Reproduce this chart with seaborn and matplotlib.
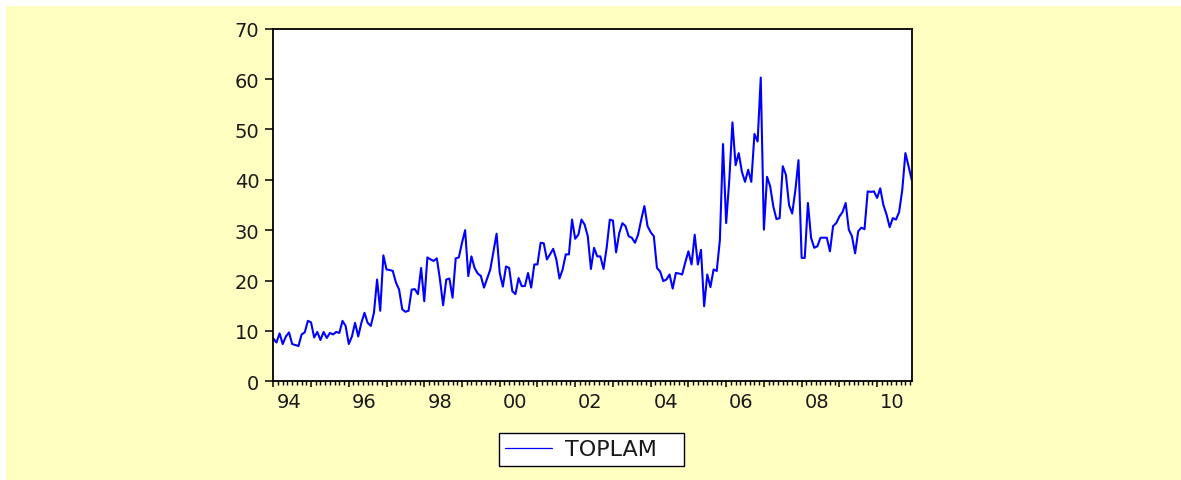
import numpy as np
import pandas as pd
import matplotlib
matplotlib.use("Agg")
import matplotlib.pyplot as plt
import matplotlib.transforms as mtransforms
from matplotlib.patches import Rectangle
from matplotlib.lines import Line2D
from matplotlib.ticker import FixedLocator, MultipleLocator
import seaborn as sns

# ---------------- data ----------------
start_year = 1994  # monthly series, 1994M01 .. 2010M12
series_name = "TOPLAM"
toplam = [
    8.5, 7.7, 9.5, 7.4, 8.9, 9.7, 7.4, 7.2, 7.0, 9.3,
    9.7, 12.0, 11.7, 8.7, 9.8, 8.2, 9.8, 8.6, 9.6, 9.3,
    9.8, 9.6, 12.0, 11.0, 7.4, 8.9, 11.6, 8.9, 11.6, 13.6,
    11.6, 11.0, 13.6, 20.2, 14.0, 25.0,
    22.2, 22.1, 21.9, 19.6, 18.2, 14.3, 13.8, 14.0, 18.2, 18.3,
    17.3, 22.5, 15.9, 24.6, 24.2, 23.9, 24.4, 20.2, 15.1, 20.2,
    20.4, 16.6, 24.4, 24.6, 27.5, 30.0, 20.9, 24.8, 22.5, 21.4,
    20.9, 18.6, 20.4, 22.2, 25.8, 29.3, 21.5, 18.8, 22.8, 22.5,
    17.9, 17.3, 20.5, 18.9, 18.9, 21.5, 18.6, 23.2, 23.2, 27.5,
    27.4, 24.2, 25.2, 26.3, 24.2, 20.4, 22.2, 25.2, 25.2, 32.1,
    28.3, 29.1, 32.1, 31.1, 28.8, 22.3, 26.5, 24.8, 24.8, 22.3,
    26.5, 32.1, 31.9, 25.6, 29.4, 31.4, 30.8, 28.8,
    28.5, 27.5, 29.1, 32.1, 34.8, 30.8, 29.6, 28.8, 22.5, 21.8,
    19.9, 20.2, 21.2, 18.4, 21.5, 21.4, 21.2, 23.6, 25.8, 23.2,
    29.1, 23.2, 26.1, 14.9, 21.2, 18.7, 22.2, 21.9, 28.0, 47.1,
    31.4, 40.0, 51.4, 42.9, 45.3, 41.6, 39.6, 42.0, 39.6, 49.1,
    47.6, 60.3, 30.1, 40.6, 38.7, 34.7, 32.2, 32.4, 42.7, 41.0,
    35.0, 33.3, 37.9, 43.9, 24.5, 24.5,
    35.4, 28.5, 26.5, 26.8, 28.5, 28.5, 28.5, 25.8, 30.8, 31.4,
    32.7, 33.6, 35.4, 30.1, 28.8, 25.4, 29.8, 30.5, 30.2, 37.7,
    37.6, 37.7, 36.4, 38.3, 35.0, 33.1, 30.6, 32.4, 32.1, 33.6,
    38.0, 45.3, 42.7, 40.0,
]
year_ticks = list(range(1994, 2011))
year_labels = ["94", "", "96", "", "98", "", "00", "", "02", "",
               "04", "", "06", "", "08", "", "10"]
y_ticks = [0, 10, 20, 30, 40, 50, 60, 70]

dates = start_year + np.arange(len(toplam)) / 12.0
df = pd.DataFrame({"date": dates, series_name: toplam})

# ---------------- style ----------------
sns.set_style("white")
plt.rcParams["font.family"] = ["DejaVu Sans"]

W, H = 1181, 481
fig = plt.figure(figsize=(W / 100, H / 100), dpi=100)
fig.patch.set_facecolor("white")
fig.add_artist(Rectangle((6 / W, 0), 1 - 6 / W, 1 - 7 / H,
                         transform=fig.transFigure, facecolor="#FFFFC2",
                         edgecolor="none", zorder=0))

left, right, top, bottom = 273.3, 911.7, 29.7, 382.3
ax = fig.add_axes([left / W, 1 - bottom / H, (right - left) / W, (bottom - top) / H])
ax.set_facecolor("white")

sns.lineplot(data=df, x="date", y=series_name, ax=ax, color="#0000FF",
             linewidth=1.5, legend=False)

ax.set_xlim(dates[0], dates[-1])
ax.set_ylim(0, 70)
ax.set_xlabel("")
ax.set_ylabel("")

for s in ax.spines.values():
    s.set_visible(True)
    s.set_color("black")
    s.set_linewidth(1.3)

ax.yaxis.set_major_locator(FixedLocator(y_ticks))
ax.set_yticklabels([str(v) for v in y_ticks])
ax.xaxis.set_major_locator(FixedLocator(year_ticks))
ax.set_xticklabels(year_labels)
ax.xaxis.set_minor_locator(MultipleLocator(0.125))

ax.tick_params(axis="y", which="major", direction="out", length=6, width=1.1,
               color="black", pad=4, labelsize=14, labelcolor="#1a1a1a", left=True)
ax.tick_params(axis="x", which="major", direction="out", length=4.5, width=1.1,
               color="black", pad=3, labelsize=14, labelcolor="#1a1a1a", bottom=True)
ax.tick_params(axis="x", which="minor", direction="out", length=2.6, width=1.0,
               color="black", bottom=True)

offset = mtransforms.ScaledTranslation(0.03, 0, fig.dpi_scale_trans)
for lbl in ax.get_xticklabels():
    lbl.set_horizontalalignment("left")
    lbl.set_transform(lbl.get_transform() + offset)

# ---------------- legend ----------------
h = Line2D([], [], color="#0000FF", linewidth=0.9)
leg = fig.legend([h], [series_name], loc="center",
                 bbox_to_anchor=(499 / W, 1 - 468 / H, 185 / W, 35 / H),
                 mode="expand", frameon=True, fancybox=False, shadow=False,
                 framealpha=1, edgecolor="black", facecolor="white",
                 fontsize=16, handlelength=2.1, handletextpad=0.6,
                 borderpad=0.28, borderaxespad=0)
leg.get_frame().set_linewidth(1.0)
for t in leg.get_texts():
    t.set_color("#1a1a1a")

fig.savefig("out.png", dpi=100, facecolor=fig.get_facecolor())
